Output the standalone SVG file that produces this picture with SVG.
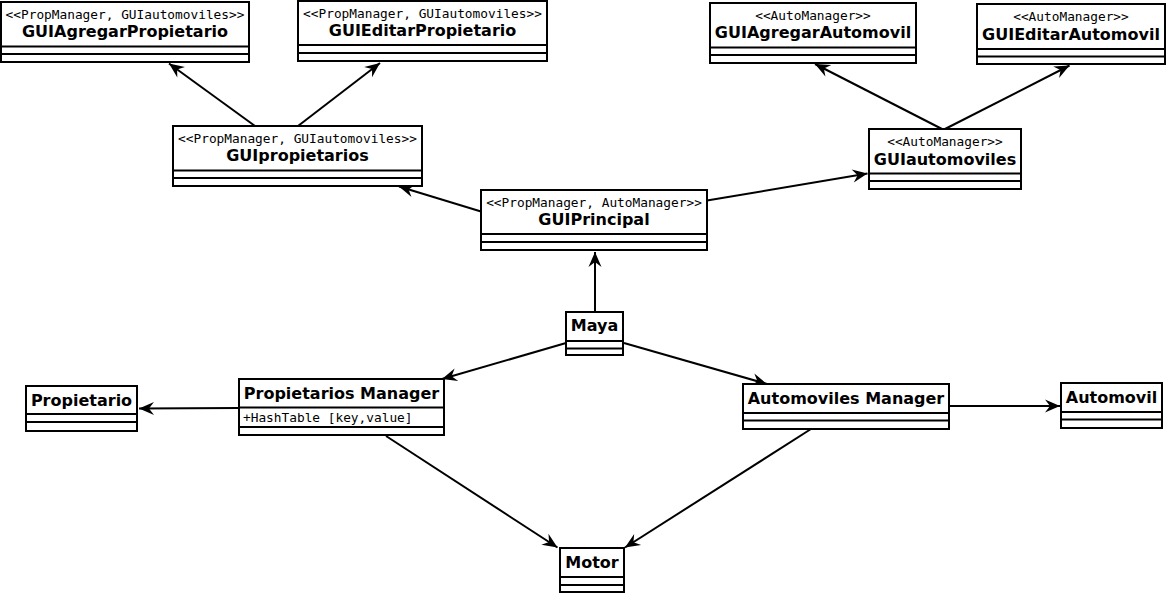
<svg xmlns="http://www.w3.org/2000/svg" width="1168" height="594" viewBox="0 0 1168 594">
<style>
.box{fill:#fff;stroke:#000;stroke-width:2}
.sep{stroke:#000;stroke-width:2}
.st{font-family:"DejaVu Sans Mono","Liberation Mono",monospace;font-size:12.8px;text-anchor:middle;fill:#000}
.nm{font-family:"DejaVu Sans","Liberation Sans",sans-serif;font-size:16px;font-weight:bold;text-anchor:middle;fill:#000}
.at{font-family:"DejaVu Sans Mono","Liberation Mono",monospace;font-size:12.8px;fill:#000}
.edge{stroke:#000;stroke-width:2;fill:none;marker-end:url(#arr)}
</style>
<defs>
<marker id="arr" viewBox="-16 -8 17 16" refX="0" refY="0" markerWidth="17" markerHeight="16" markerUnits="userSpaceOnUse" orient="auto">
<path d="M0,0 L-15,-6.5 L-10,0 L-15,6.5 Z" fill="#000"/>
</marker>
</defs>
<rect width="1168" height="594" fill="#fff"/>
<g id="connectors">
<line class="edge" x1="255" y1="126" x2="169" y2="63.5"/>
<line class="edge" x1="298" y1="126" x2="380" y2="63"/>
<line class="edge" x1="481" y1="211.5" x2="399" y2="186.5"/>
<line class="edge" x1="707" y1="200.5" x2="867.5" y2="173.5"/>
<line class="edge" x1="942" y1="129" x2="815" y2="64"/>
<line class="edge" x1="945" y1="129" x2="1069.5" y2="65.5"/>
<line class="edge" x1="595" y1="312" x2="595" y2="252"/>
<line class="edge" x1="566" y1="343" x2="442" y2="379"/>
<line class="edge" x1="624" y1="343" x2="767" y2="384"/>
<line class="edge" x1="239" y1="408" x2="139" y2="408.5"/>
<line class="edge" x1="949" y1="406" x2="1060" y2="406"/>
<line class="edge" x1="386" y1="436" x2="557.5" y2="547.5"/>
<line class="edge" x1="811" y1="429" x2="625" y2="547.5"/>
</g>
<g id="GUIAgregarPropietario">
<rect class="box" x="1" y="2" width="248" height="60"/>
<line class="sep" x1="1" y1="46.5" x2="249" y2="46.5"/>
<line class="sep" x1="1" y1="54" x2="249" y2="54"/>
<text class="st" x="125" y="18.5">&lt;&lt;PropManager, GUIautomoviles&gt;&gt;</text>
<text class="nm" x="125" y="37">GUIAgregarPropietario</text>
</g>
<g id="GUIEditarPropietario">
<rect class="box" x="298" y="1" width="249" height="60"/>
<line class="sep" x1="298" y1="45" x2="547" y2="45"/>
<line class="sep" x1="298" y1="53" x2="547" y2="53"/>
<text class="st" x="422.5" y="17.5">&lt;&lt;PropManager, GUIautomoviles&gt;&gt;</text>
<text class="nm" x="422.5" y="36">GUIEditarPropietario</text>
</g>
<g id="GUIpropietarios">
<rect class="box" x="173" y="126" width="249" height="60"/>
<line class="sep" x1="173" y1="170.5" x2="422" y2="170.5"/>
<line class="sep" x1="173" y1="178" x2="422" y2="178"/>
<text class="st" x="297.5" y="142.5">&lt;&lt;PropManager, GUIautomoviles&gt;&gt;</text>
<text class="nm" x="297.5" y="161">GUIpropietarios</text>
</g>
<g id="GUIAgregarAutomovil">
<rect class="box" x="710" y="3" width="206" height="60"/>
<line class="sep" x1="710" y1="47.5" x2="916" y2="47.5"/>
<line class="sep" x1="710" y1="55" x2="916" y2="55"/>
<text class="st" x="813" y="19.5">&lt;&lt;AutoManager&gt;&gt;</text>
<text class="nm" x="813" y="38">GUIAgregarAutomovil</text>
</g>
<g id="GUIEditarAutomovil">
<rect class="box" x="977" y="4" width="188" height="60"/>
<line class="sep" x1="977" y1="49" x2="1165" y2="49"/>
<line class="sep" x1="977" y1="56.5" x2="1165" y2="56.5"/>
<text class="st" x="1071" y="20.5">&lt;&lt;AutoManager&gt;&gt;</text>
<text class="nm" x="1071" y="39.5">GUIEditarAutomovil</text>
</g>
<g id="GUIautomoviles">
<rect class="box" x="869" y="129" width="152" height="60"/>
<line class="sep" x1="869" y1="173.5" x2="1021" y2="173.5"/>
<line class="sep" x1="869" y1="181" x2="1021" y2="181"/>
<text class="st" x="945" y="145.5">&lt;&lt;AutoManager&gt;&gt;</text>
<text class="nm" x="945" y="164.5">GUIautomoviles</text>
</g>
<g id="GUIPrincipal">
<rect class="box" x="481" y="190" width="226" height="60"/>
<line class="sep" x1="481" y1="234" x2="707" y2="234"/>
<line class="sep" x1="481" y1="242" x2="707" y2="242"/>
<text class="st" x="594" y="206.5">&lt;&lt;PropManager, AutoManager&gt;&gt;</text>
<text class="nm" x="594" y="225">GUIPrincipal</text>
</g>
<g id="Maya">
<rect class="box" x="566" y="312" width="57" height="43"/>
<line class="sep" x1="566" y1="341" x2="623" y2="341"/>
<line class="sep" x1="566" y1="348.5" x2="623" y2="348.5"/>
<text class="nm" x="594.5" y="331">Maya</text>
</g>
<g id="Propietario">
<rect class="box" x="26" y="386" width="111" height="45"/>
<line class="sep" x1="26" y1="414" x2="137" y2="414"/>
<line class="sep" x1="26" y1="422" x2="137" y2="422"/>
<text class="nm" x="81.5" y="406">Propietario</text>
</g>
<g id="PropietariosManager">
<rect class="box" x="239" y="379" width="205" height="56"/>
<line class="sep" x1="239" y1="407.5" x2="444" y2="407.5"/>
<line class="sep" x1="239" y1="427" x2="444" y2="427"/>
<text class="nm" x="341.5" y="399">Propietarios Manager</text>
<text class="at" x="243" y="422">+HashTable [key,value]</text>
</g>
<g id="AutomovilesManager">
<rect class="box" x="743" y="384" width="206" height="45"/>
<line class="sep" x1="743" y1="413" x2="949" y2="413"/>
<line class="sep" x1="743" y1="420.5" x2="949" y2="420.5"/>
<text class="nm" x="846" y="404">Automoviles Manager</text>
</g>
<g id="Automovil">
<rect class="box" x="1061" y="383" width="101" height="45"/>
<line class="sep" x1="1061" y1="412" x2="1162" y2="412"/>
<line class="sep" x1="1061" y1="419.5" x2="1162" y2="419.5"/>
<text class="nm" x="1111.5" y="403">Automovil</text>
</g>
<g id="Motor">
<rect class="box" x="560" y="548" width="64" height="44"/>
<line class="sep" x1="560" y1="577" x2="624" y2="577"/>
<line class="sep" x1="560" y1="585" x2="624" y2="585"/>
<text class="nm" x="592" y="568">Motor</text>
</g>
</svg>
